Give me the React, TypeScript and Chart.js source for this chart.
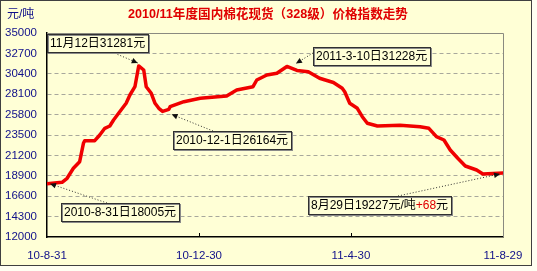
import React, { useEffect, useRef } from "react";
import { Chart, registerables } from "chart.js";

Chart.register(...registerables);

// ---- data ----
const days = [0, 12, 16, 21, 26, 29, 30, 38, 42, 46, 50, 53, 57, 60, 63, 66, 70, 73, 77, 79, 83, 86, 89, 92, 97, 98, 109, 122, 143, 151, 164, 167, 175, 183, 191, 199, 208, 217, 228, 235, 237, 241, 247, 251, 255, 263, 281, 297, 304, 310, 316, 321, 327, 333, 342, 347, 363];
const prices = [18005, 18168, 18618, 19746, 20490, 22565, 22858, 22858, 23500, 24256, 24515, 25192, 25947, 26511, 27075, 28011, 28946, 31281, 30829, 28946, 28202, 27075, 26511, 26164, 26398, 26691, 27255, 27638, 27898, 28574, 28946, 29702, 30266, 30457, 31228, 30773, 30638, 29893, 29420, 28766, 28383, 27075, 26511, 25564, 24820, 24515, 24594, 24436, 24256, 23309, 22937, 21809, 20873, 20005, 19554, 19103, 19227];
const xTickDays = [0, 121, 242, 363];
const xTickLabels = ["10-8-31", "10-12-30", "11-4-30", "11-8-29"];
const yMin = 12000;
const yMax = 35000;
const yStep = 2300;
const titleText = "2010/11年度国内棉花现货（328级）价格指数走势";
const unitText = "元/吨";
const calloutDays = [73, 191, 92, 0, 363];
const calloutPrices = [31281, 31228, 26164, 18005, 19227];
const calloutTexts: [string, string][][] = [
  [["11月12日31281元", "#000"]],
  [["2011-3-10日31228元", "#000"]],
  [["2010-12-1日26164元", "#000"]],
  [["2010-8-31日18005元", "#000"]],
  [["8月29日19227元/吨", "#000"], ["+68", "#E00000"], ["元", "#000"]],
];

// ---- layout of callouts (pixels) ----
const boxPos = [
  { x: 47, y: 34, sx: 112, sy: 52, dx: -1, dy: -3 },
  { x: 313, y: 47, sx: 313, sy: 53, dx: 9, dy: -3 },
  { x: 173, y: 131, sx: 213, sy: 131, dx: 9, dy: 3 },
  { x: 61, y: 203, sx: 107, sy: 203, dx: 3, dy: 0 },
  { x: 308, y: 196, sx: 398, sy: 196, dx: -3, dy: 1 },
];

const FONT = "'Liberation Sans', 'Noto Sans CJK SC', sans-serif";
const BLUE = "#10108a";

const framePlugin = {
  id: "frame",
  beforeDraw(chart: any) {
    const ctx = chart.ctx;
    ctx.save();
    ctx.fillStyle = "#FFFFF2";
    ctx.fillRect(0, 0, chart.width, chart.height);
    ctx.fillStyle = "#FFFFD6";
    ctx.fillRect(0, 0, 532, 266);
    ctx.strokeStyle = "#404040";
    ctx.lineWidth = 1;
    ctx.strokeRect(0.5, 0.5, 531, 265);
    ctx.restore();
  },
  beforeDatasetsDraw(chart: any) {
    const ctx = chart.ctx;
    const a = chart.chartArea;
    ctx.save();
    ctx.strokeStyle = "#8a8a80";
    ctx.lineWidth = 1;
    ctx.beginPath();
    ctx.moveTo(a.left, Math.round(a.top) + 0.5);
    ctx.lineTo(Math.round(a.right) + 0.5, Math.round(a.top) + 0.5);
    ctx.lineTo(Math.round(a.right) + 0.5, a.bottom);
    ctx.stroke();
    // small x tick marks
    const xs = chart.scales.x;
    ctx.strokeStyle = "#000";
    for (const d of xTickDays.slice(1, -1)) {
      const px = Math.round(xs.getPixelForValue(d)) + 0.5;
      ctx.beginPath();
      ctx.moveTo(px, a.bottom);
      ctx.lineTo(px, a.bottom - 4);
      ctx.stroke();
    }
    ctx.restore();
  },
  afterDraw(chart: any) {
    const ctx = chart.ctx;
    const xs = chart.scales.x;
    const ys = chart.scales.y;
    ctx.save();
    // title & unit
    ctx.textBaseline = "middle";
    ctx.fillStyle = "#E00000";
    ctx.font = "bold 12.6px " + FONT;
    ctx.textAlign = "center";
    ctx.fillText(titleText, 268, 15);
    ctx.fillStyle = BLUE;
    ctx.font = "12px " + FONT;
    ctx.textAlign = "left";
    ctx.fillText(unitText, 7, 15);

    // callouts
    calloutDays.forEach((d, i) => {
      const b = boxPos[i];
      const tx = xs.getPixelForValue(d) + b.dx;
      const ty = ys.getPixelForValue(calloutPrices[i]) + b.dy;
      // dotted line
      ctx.strokeStyle = "#303030";
      ctx.lineWidth = 1;
      ctx.setLineDash([1, 2]);
      ctx.beginPath();
      ctx.moveTo(b.sx, b.sy);
      ctx.lineTo(tx, ty);
      ctx.stroke();
      ctx.setLineDash([]);
      // arrowhead
      const ang = Math.atan2(ty - b.sy, tx - b.sx);
      const L = 6, W = 2.8;
      ctx.fillStyle = "#101010";
      ctx.beginPath();
      ctx.moveTo(tx, ty);
      ctx.lineTo(tx - L * Math.cos(ang) + W * Math.sin(ang), ty - L * Math.sin(ang) - W * Math.cos(ang));
      ctx.lineTo(tx - L * Math.cos(ang) - W * Math.sin(ang), ty - L * Math.sin(ang) + W * Math.cos(ang));
      ctx.closePath();
      ctx.fill();
      // box
      ctx.font = "12px " + FONT;
      const segs = calloutTexts[i];
      let w = 0;
      segs.forEach((s) => (w += ctx.measureText(s[0]).width));
      const bw = Math.round(w + 6);
      const bh = 18;
      ctx.fillStyle = "#FFFFD6";
      ctx.fillRect(b.x, b.y, bw, bh);
      ctx.strokeStyle = "#8a8a8a";
      ctx.strokeRect(b.x + 1.5, b.y + 1.5, bw, bh);
      ctx.strokeStyle = "#303030";
      ctx.strokeRect(b.x + 0.5, b.y + 0.5, bw, bh);
      let cx = b.x + 3;
      ctx.textAlign = "left";
      ctx.textBaseline = "middle";
      segs.forEach((s) => {
        ctx.fillStyle = s[1];
        ctx.fillText(s[0], cx, b.y + bh / 2 + 1);
        cx += ctx.measureText(s[0]).width;
      });
    });
    ctx.restore();
  },
};

export default function App() {
  const ref = useRef<HTMLCanvasElement>(null);
  useEffect(() => {
    if (!ref.current) return;
    const chart = new Chart(ref.current, {
      type: "line",
      data: {
        datasets: [
          {
            data: days.map((d, i) => ({ x: d, y: prices[i] })),
            borderColor: "#F00000",
            borderWidth: 3.5,
            pointRadius: 0,
            tension: 0,
            borderJoinStyle: "round",
            borderCapStyle: "round",
            fill: false,
          },
        ],
      },
      options: {
        animation: false,
        responsive: false,
        layout: { padding: { left: 0, top: 33, right: 34, bottom: 0 } },
        plugins: {
          legend: { display: false },
          tooltip: { enabled: false },
          title: { display: false },
        },
        scales: {
          x: {
            type: "linear",
            min: 0,
            max: 363,
            afterBuildTicks: (s: any) => {
              s.ticks = xTickDays.map((v) => ({ value: v }));
            },
            afterFit: (s: any) => {
              s.height = 34;
            },
            ticks: {
              autoSkip: false,
              maxRotation: 0,
              padding: 12,
              color: BLUE,
              font: { family: FONT, size: 11.5 },
              callback: (v: any) => xTickLabels[xTickDays.indexOf(Number(v))],
            },
            grid: { display: false, drawTicks: false },
            border: { display: true, color: "#000", width: 1.5 },
          },
          y: {
            min: yMin,
            max: yMax,
            afterFit: (s: any) => {
              s.width = 47;
            },
            ticks: {
              stepSize: yStep,
              padding: 10,
              color: BLUE,
              font: { family: FONT, size: 11.5 },
              callback: (v: any) => String(v),
            },
            grid: {
              drawTicks: false,
              color: (c: any) =>
                c.tick && (c.tick.value === yMin || c.tick.value === yMax) ? "rgba(0,0,0,0)" : "#A8A89C",
              lineWidth: 1,
            },
            border: { display: true, color: "#000", width: 1.5, dash: [4, 3] },
          },
        },
      },
      plugins: [framePlugin],
    } as any);
    return () => chart.destroy();
  }, []);
  return (
    <div style={{ position: "absolute", left: 0, top: 0, width: 537, height: 271 }}>
      <canvas ref={ref} width={537} height={271} style={{ display: "block", width: 537, height: 271 }} />
    </div>
  );
}
